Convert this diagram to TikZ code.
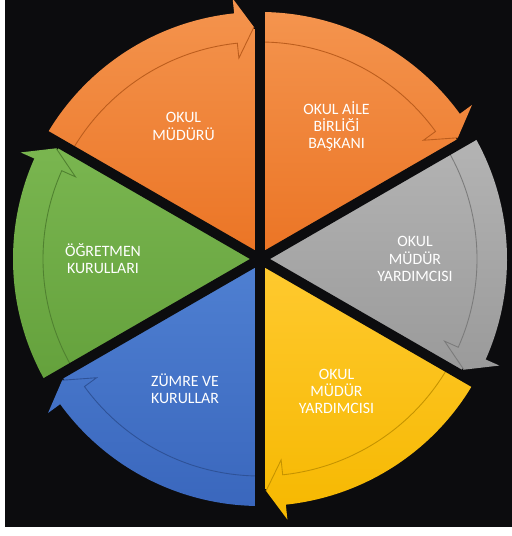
\documentclass[tikz,border=0pt]{standalone}
\usepackage{fontspec}
\setmainfont{Carlito}
\usetikzlibrary{positioning}

\definecolor{bgdark}{RGB}{12,12,14}
\definecolor{orgtop}{HTML}{F4944E}
\definecolor{orgbot}{HTML}{EB7424}
\definecolor{grytop}{HTML}{B4B4B4}
\definecolor{grybot}{HTML}{9A9A9A}
\definecolor{yeltop}{HTML}{FFCA30}
\definecolor{yelbot}{HTML}{F6B800}
\definecolor{blutop}{HTML}{4F80D2}
\definecolor{blubot}{HTML}{3A67BD}
\definecolor{grntop}{HTML}{7AB650}
\definecolor{grnbot}{HTML}{64A13C}

\begin{document}
\begin{tikzpicture}[x=0.02cm, y=0.02cm]

\tikzset{segtext/.style={text=white, align=center, font=\fontsize{9}{9.8}\selectfont},
         split/.style={draw=bgdark, line width=2mm}}

% radii: body, arrow band, arrow head
\def\rb{230};
\def\ri{217};
\def\ro{247};
\def\rc{232};
\def\rbi{202};
\def\rbo{262};

% #1 = clockwise end angle, #2/#3 = top/bottom colour
\def\segment#1#2#3{
\path[top color=#2, bottom color=#3]
  (0,0) -- (#1:\rb) arc[start angle=#1, end angle=#1+60, radius=\rb] -- cycle
  (#1+60:\ri) arc[start angle=#1+60, end angle=#1+6, radius=\ri] -- (#1+6:\rbi)
  -- (#1+1.5:\rc) -- (#1+6:\rbo) -- (#1+6:\ro)
  arc[start angle=#1+6, end angle=#1+60, radius=\ro] -- cycle;
\draw[#3!80!black, line width=0.5pt]
  (#1+60:\ri) arc[start angle=#1+60, end angle=#1+6, radius=\ri] -- (#1+6:\rbi) -- (#1+1.5:\rc);
}

\useasboundingbox (-260,-277) rectangle (251,259);
\fill[bgdark] (-255,-268) rectangle (253,262);

\coordinate (O) at (0,0);

\segment{90}{orgtop}{orgbot}
\segment{30}{orgtop}{orgbot}
\segment{-30}{grytop}{grybot}
\segment{-90}{yeltop}{yelbot}
\segment{-150}{blutop}{blubot}
\segment{150}{grntop}{grnbot}

% dark gaps between the segments
\draw[split] (O) -- (90:265);
\draw[split] (O) -- (30:280);
\draw[split] (O) -- (-30:280);
\draw[split] (O) -- (-90:265);
\draw[split] (O) -- (-150:280);
\draw[split] (O) -- (150:280);

% white margin at the bottom
\fill[white] (-262,-279) rectangle (253,-268);

\node[segtext] (mudur) at (120:153) {OKUL\\MÜDÜRÜ};
\node[segtext] (aile) at (60:153) {OKUL AİLE\\BİRLİĞİ\\BAŞKANI};
\node[segtext] (yard1) at (0:155) {OKUL\\MÜDÜR\\YARDIMCISI};
\node[segtext] (yard2) at (-60:153) {OKUL\\MÜDÜR\\YARDIMCISI};
\node[segtext] (zumre) at (-120:150) {ZÜMRE VE\\KURULLAR};
\node[segtext] (ogret) at (180:157) {ÖĞRETMEN\\KURULLARI};

\end{tikzpicture}
\end{document}
